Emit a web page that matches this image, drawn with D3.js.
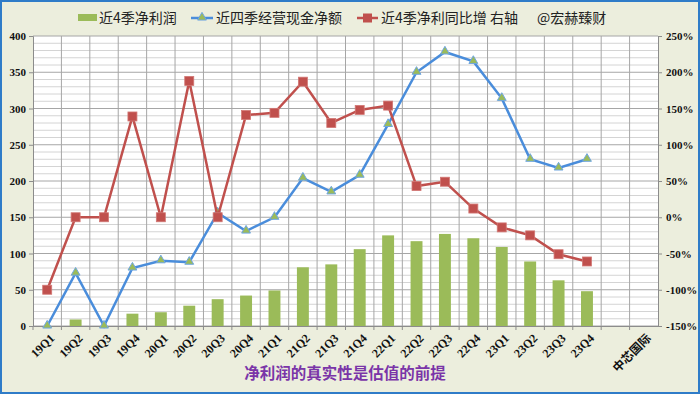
<!DOCTYPE html>
<html>
<head>
<meta charset="utf-8">
<script src="https://cdn.jsdelivr.net/npm/d3@7"></script>
<style>
  html, body { margin: 0; padding: 0; background: #ECEEDD; }
  svg { display: block; }
</style>
</head>
<body>
<script>
// 中芯国际: 近4季净利润 / 经营现金净额 / 净利同比

const width = 700;
const height = 394;

const quarters = ["19Q1", "19Q2", "19Q3", "19Q4", "20Q1", "20Q2", "20Q3", "20Q4",
    "21Q1", "21Q2", "21Q3", "21Q4", "22Q1", "22Q2", "22Q3", "22Q4",
    "23Q1", "23Q2", "23Q3", "23Q4", "", "中芯国际"];

// 近4季净利润 (bars, left axis)
const netProfit = [0, 9, 0, 17, 19, 28, 37, 42, 49, 81, 85, 106, 125, 117, 127, 121, 109, 89, 63, 48];
// 近四季经营现金净额 (blue line, left axis)
const cashFlow = [0, 73, 0, 80, 90, 88, 156, 131, 150, 204, 185, 208, 278, 350, 378, 365, 314, 230, 218, 230];
// 近4季净利同比增 (red line, right axis, %)
const profitYoY = [-100, 0, 0, 139, 0, 188, 0, 141, 144, 187, 130, 148, 154, 43, 49, 12, -14, -25, -51, -61];

const leftTicks = [0, 50, 100, 150, 200, 250, 300, 350, 400];
const rightTicks = [-150, -100, -50, 0, 50, 100, 150, 200, 250];

const margin = { left: 33, right: 42, top: 36, bottom: 68 };
const plotRight = width - margin.right;
const plotBottom = height - margin.bottom;

const serif = "'Liberation Serif', 'Times New Roman', serif";
const cjk = "'Noto Sans CJK SC', sans-serif";

const svg = d3.select("body").append("svg")
    .attr("width", width)
    .attr("height", height);

svg.append("rect")
    .attr("x", 1).attr("y", 1)
    .attr("width", width - 2).attr("height", height - 2)
    .attr("fill", "#ECEEDD")
    .attr("stroke", "#2F7CC8")
    .attr("stroke-width", 2);

const x = d3.scaleBand()
    .domain(quarters)
    .range([margin.left, plotRight])
    .padding(0);

const y = d3.scaleLinear().domain([0, 400]).range([plotBottom, margin.top]);
const y2 = d3.scaleLinear().domain([-150, 250]).range([plotBottom, margin.top]);

// plot area
svg.append("rect")
    .attr("x", margin.left).attr("y", margin.top)
    .attr("width", plotRight - margin.left)
    .attr("height", plotBottom - margin.top)
    .attr("fill", "#fff");

// minor horizontal grid
svg.append("g").selectAll("line")
    .data(d3.range(0, 401, 10).filter(v => v % 50 !== 0))
    .join("line")
    .attr("x1", margin.left).attr("x2", plotRight)
    .attr("y1", d => y(d)).attr("y2", d => y(d))
    .attr("stroke", "#D4D4D4").attr("stroke-width", 1);

// major horizontal grid
svg.append("g").selectAll("line")
    .data(leftTicks)
    .join("line")
    .attr("x1", margin.left).attr("x2", plotRight)
    .attr("y1", d => y(d)).attr("y2", d => y(d))
    .attr("stroke", "#A6A6A6").attr("stroke-width", 1);

// vertical grid at category boundaries
svg.append("g").selectAll("line")
    .data(quarters.slice(1))
    .join("line")
    .attr("x1", d => x(d)).attr("x2", d => x(d))
    .attr("y1", margin.top).attr("y2", plotBottom)
    .attr("stroke", "#A6A6A6").attr("stroke-width", 1);

// left axis
const leftAxis = svg.append("g")
    .attr("transform", `translate(${margin.left},0)`)
    .call(d3.axisLeft(y).tickValues(leftTicks).tickSize(4).tickPadding(3));
// right axis
const rightAxis = svg.append("g")
    .attr("transform", `translate(${plotRight},0)`)
    .call(d3.axisRight(y2).tickValues(rightTicks).tickSize(4).tickPadding(4)
        .tickFormat(d => d + "%"));
// bottom axis (labels drawn separately, rotated)
const bottomAxis = svg.append("g")
    .attr("transform", `translate(0,${plotBottom})`)
    .call(d3.axisBottom(x).tickSize(0).tickFormat(""));

[leftAxis, rightAxis, bottomAxis].forEach(g => {
    g.select(".domain").attr("stroke", "#8C8C8C");
    g.selectAll(".tick line").attr("stroke", "#8C8C8C");
    g.selectAll("text")
        .attr("fill", "#111")
        .style("font-family", serif)
        .style("font-weight", "bold")
        .style("font-size", "11px");
});

// rotated category labels
svg.append("g").selectAll("text")
    .data(quarters)
    .join("text")
    .attr("transform", d => `translate(${x(d) + x.bandwidth() / 2 + 5},${plotBottom + 10}) rotate(-45)`)
    .attr("text-anchor", "end")
    .attr("dy", "0.35em")
    .attr("fill", "#111")
    .style("font-family", d => d === "中芯国际" ? cjk : serif)
    .style("font-weight", "bold")
    .style("font-size", "12px")
    .text(d => d);

// category boundary ticks on x axis
svg.append("g").selectAll("line")
    .data(quarters)
    .join("line")
    .attr("x1", d => x(d)).attr("x2", d => x(d))
    .attr("y1", plotBottom).attr("y2", plotBottom + 4)
    .attr("stroke", "#8C8C8C");

// bars
const barW = x.bandwidth() * 0.42;
svg.append("g").selectAll("rect")
    .data(netProfit)
    .join("rect")
    .attr("x", (d, i) => x(quarters[i]) + (x.bandwidth() - barW) / 2)
    .attr("y", d => y(d))
    .attr("width", barW)
    .attr("height", d => y(0) - y(d))
    .attr("fill", "#9BBB59");

const cx = i => x(quarters[i]) + x.bandwidth() / 2;

// blue line
svg.append("path")
    .datum(cashFlow)
    .attr("fill", "none")
    .attr("stroke", "#4A8DDB")
    .attr("stroke-width", 2.5)
    .attr("d", d3.line().x((d, i) => cx(i)).y(d => y(d)));

const tri = d3.symbol().type(d3.symbolTriangle).size(34);
svg.append("g").selectAll("path")
    .data(cashFlow)
    .join("path")
    .attr("transform", (d, i) => `translate(${cx(i)},${y(d) - 0.5})`)
    .attr("d", tri)
    .attr("fill", "#9BBB59")
    .attr("stroke", "#6FA6E0")
    .attr("stroke-width", 1);

// red line
svg.append("path")
    .datum(profitYoY)
    .attr("fill", "none")
    .attr("stroke", "#C0504D")
    .attr("stroke-width", 2.5)
    .attr("d", d3.line().x((d, i) => cx(i)).y(d => y2(d)));

svg.append("g").selectAll("rect")
    .data(profitYoY)
    .join("rect")
    .attr("x", (d, i) => cx(i) - 4.5)
    .attr("y", d => y2(d) - 4.5)
    .attr("width", 9).attr("height", 9)
    .attr("fill", "#C0504D")
    .attr("stroke", "#D27774")
    .attr("stroke-width", 0.8);

// legend
const legend = svg.append("g").style("font-family", cjk).style("font-size", "14px");
const ly = 18;

legend.append("rect").attr("x", 78).attr("y", ly - 4).attr("width", 19).attr("height", 7).attr("fill", "#9BBB59");
legend.append("text").attr("x", 99).attr("y", ly).attr("dy", "0.35em").attr("fill", "#222").text("近4季净利润");

legend.append("line").attr("x1", 191).attr("x2", 213).attr("y1", ly).attr("y2", ly)
    .attr("stroke", "#4A8DDB").attr("stroke-width", 2.5);
legend.append("path").attr("transform", `translate(202,${ly - 0.5})`).attr("d", tri)
    .attr("fill", "#9BBB59").attr("stroke", "#6FA6E0");
legend.append("text").attr("x", 216).attr("y", ly).attr("dy", "0.35em").attr("fill", "#222").text("近四季经营现金净额");

legend.append("line").attr("x1", 357).attr("x2", 378).attr("y1", ly).attr("y2", ly)
    .attr("stroke", "#C0504D").attr("stroke-width", 2.5);
legend.append("rect").attr("x", 363).attr("y", ly - 4.5).attr("width", 9).attr("height", 9).attr("fill", "#C0504D");
legend.append("text").attr("x", 381).attr("y", ly).attr("dy", "0.35em").attr("fill", "#222").text("近4季净利同比增 右轴");

legend.append("text").attr("x", 537).attr("y", ly).attr("dy", "0.35em").attr("fill", "#222").text("@宏赫臻财");

// bottom title
svg.append("text")
    .attr("x", 345).attr("y", 379)
    .attr("text-anchor", "middle")
    .style("font-family", cjk)
    .style("font-size", "15.5px")
    .style("font-weight", "bold")
    .attr("fill", "#7A35A8")
    .text("净利润的真实性是估值的前提");
</script>
</body>
</html>
